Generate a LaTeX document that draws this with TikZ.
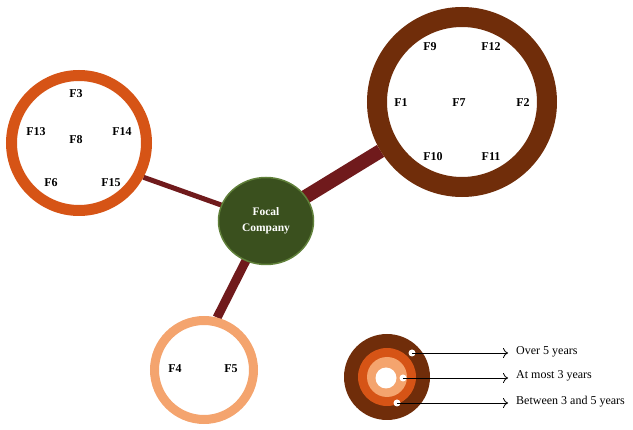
\documentclass[tikz,border=0pt]{standalone}
\usepackage{fontspec}
\setmainfont{Liberation Serif}
\usetikzlibrary{shapes.geometric,backgrounds,arrows.meta}
\definecolor{ringdark}{RGB}{112,45,10}
\definecolor{ringmid}{RGB}{214,84,22}
\definecolor{ringlight}{RGB}{244,164,110}
\definecolor{linkred}{RGB}{112,26,28}
\definecolor{focalfill}{RGB}{58,80,30}
\definecolor{focalborder}{RGB}{96,128,58}
\tikzset{
  ring/.style={circle,draw,fill=white,inner sep=0pt},
  flabel/.style={font=\bfseries\fontsize{12}{13}\selectfont,inner sep=1pt},
  link/.style={draw=linkred},
  legtext/.style={font=\fontsize{12}{13}\selectfont,anchor=west,inner sep=0pt},
  legdot/.style={circle,fill=white,inner sep=0pt,minimum size=7pt},
  legarrow/.style={draw=black,line width=0.8pt,-{To[length=5pt,width=10pt]}}
}
\begin{document}
\begin{tikzpicture}[x=1pt,y=-1pt]
\useasboundingbox (0,0) rectangle (633,430);
% rings
\node[ring,draw=ringdark,line width=20pt,minimum size=170pt] (big) at (462,102) {};
\node[ring,draw=ringmid,line width=11pt,minimum size=135pt] (left) at (79,143) {};
\node[ring,draw=ringlight,line width=9pt,minimum size=99pt] (bot) at (204,370) {};
\node[ellipse,draw=focalborder,fill=focalfill,line width=1.5pt,minimum width=95pt,minimum height=87pt,
      font=\bfseries\fontsize{11.5}{16}\selectfont,text=white,align=center] (focal) at (266,221) {Focal\\Company};
% connectors
\begin{pgfonlayer}{background}
\draw[link,line width=14pt] (focal.center) -- (big.211);
\draw[link,line width=5pt] (focal.center) -- (left.-28);
\draw[link,line width=9pt] (focal.center) -- (bot.76);
\end{pgfonlayer}
% labels big
\node[flabel] (f9) at (430,47) {F9};
\node[flabel] (f12) at (491,47) {F12};
\node[flabel] (f1) at (401,103) {F1};
\node[flabel] (f7) at (459,103) {F7};
\node[flabel] (f2) at (523,103) {F2};
\node[flabel] (f10) at (433,157) {F10};
\node[flabel] (f11) at (491,157) {F11};
% labels left
\node[flabel] (f3) at (76,94) {F3};
\node[flabel] (f13) at (36,132) {F13};
\node[flabel] (f14) at (122,132) {F14};
\node[flabel] (f8) at (76,140) {F8};
\node[flabel] (f6) at (51,183) {F6};
\node[flabel] (f15) at (111,183) {F15};
% labels bottom
\node[flabel] (f4) at (175,369) {F4};
\node[flabel] (f5) at (231,369) {F5};
% legend
\fill[ringdark] (387,377) circle[radius=43];
\fill[ringmid] (387,377) circle[radius=29];
\fill[ringlight] (387,377) circle[radius=20];
\fill[white] (386,378) circle[radius=10.5];
\node[legdot] (d1) at (412,353) {};
\node[legdot] (d2) at (403,378) {};
\node[legdot] (d3) at (397,403) {};
\coordinate (e1) at (508,353);
\coordinate (e2) at (508,378);
\coordinate (e3) at (508,403);
\draw[legarrow] (d1.center) -- (e1);
\draw[legarrow] (d2.center) -- (e2);
\draw[legarrow] (d3.center) -- (e3);
\node[legtext] (t1) at (516,352) {Over 5 years};
\node[legtext] (t2) at (516,376) {At most 3 years};
\node[legtext] (t3) at (516,402) {Between 3 and 5 years};
\end{tikzpicture}
\end{document}
